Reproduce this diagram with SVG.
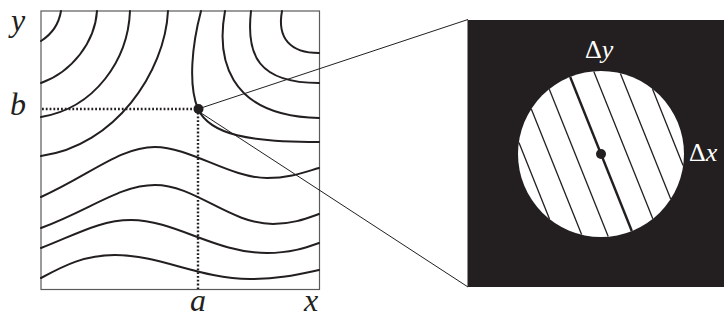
<svg xmlns="http://www.w3.org/2000/svg" width="724" height="320" viewBox="0 0 724 320">
  <style>
    .frame { fill: none; stroke: #5a5a5a; stroke-width: 1.2; }
    .contour { fill: none; stroke: #231f20; stroke-width: 2; stroke-linecap: round; }
    .dotted { fill: none; stroke: #231f20; stroke-width: 2.4; stroke-dasharray: 1.8 2; }
    .conn { fill: none; stroke: #231f20; stroke-width: 1; }
    .thin { stroke: #231f20; stroke-width: 1.3; }
    .thick { stroke: #231f20; stroke-width: 2.4; }
    .lbl { font-style: italic; font-size: 32px; fill: #231f20; }
    .dlbl { font-size: 26px; fill: #ffffff; }
    .it { font-style: italic; }
  </style>

  <g id="plot">
    <rect class="frame" x="41" y="11" width="278.5" height="278.5"/>
  </g>

  <g id="contours">
    <path class="contour" d="M61,11 C59,23 52,34 41,41"/>
    <path class="contour" d="M97,11 C95,42 72,72 41,83"/>
    <path class="contour" d="M130,11 C128,60 95,108 41,117"/>
    <path class="contour" d="M168,11 C165,72 115,146 41,156"/>
    <path class="contour" d="M201,11 C192,45 188,85 198,109 C210,135 250,142 319,142"/>
    <path class="contour" d="M225,11 C217,55 225,116 319,118"/>
    <path class="contour" d="M251,11 C246,55 258,83 319,83"/>
    <path class="contour" d="M282,11 C277,38 290,53 319,53"/>
    <path class="contour" d="M41,197 C90,175 120,147 155,147 C190,147 230,178 267,178 C290,178 305,172 319,168"/>
    <path class="contour" d="M41,228 C90,210 120,185 155,185 C195,185 230,224 273,224 C292,224 305,219 319,214"/>
    <path class="contour" d="M41,248 C75,235 100,220 131,220 C175,220 215,253 267,253 C290,253 305,248 319,243"/>
    <path class="contour" d="M41,278 C65,265 85,255 115,255 C160,255 200,279 250,279 C280,279 300,274 319,270"/>
  </g>

  <g id="guides">
    <path class="dotted" d="M42,109 H198 V289"/>
  </g>

  <g id="labels" font-family="Liberation Serif, Times New Roman, serif">
    <text class="lbl" x="18" y="31" text-anchor="middle">y</text>
    <text class="lbl" x="18" y="115" text-anchor="middle">b</text>
    <text class="lbl" x="198" y="311" text-anchor="middle">a</text>
    <text class="lbl" x="311" y="311" text-anchor="middle">x</text>
  </g>

  <g id="connectors">
    <line class="conn" x1="198" y1="109" x2="468" y2="19.5"/>
    <line class="conn" x1="198" y1="111" x2="468" y2="287"/>
  </g>

  <g id="point">
    <circle cx="198.5" cy="109" r="5" fill="#231f20"/>
  </g>

  <g id="magnifier">
    <rect x="467.5" y="20" width="260" height="267" fill="#231f20"/>
    <circle cx="601" cy="154" r="83" fill="#ffffff"/>
    <line class="thin" x1="518.9" y1="142.4" x2="549.5" y2="219.0"/>
    <line class="thin" x1="531.3" y1="109.0" x2="581.6" y2="234.6"/>
    <line class="thin" x1="549.3" y1="89.2" x2="608.2" y2="236.6"/>
    <line class="thick" x1="570.2" y1="77.0" x2="631.8" y2="231.0"/>
    <line class="thin" x1="593.8" y1="71.4" x2="652.8" y2="218.8"/>
    <line class="thin" x1="620.4" y1="73.4" x2="670.7" y2="199.0"/>
    <line class="thin" x1="652.5" y1="89.0" x2="683.1" y2="165.6"/>
    <circle cx="601" cy="154" r="5" fill="#231f20"/>
    <g font-family="Liberation Serif, Times New Roman, serif">
      <text class="dlbl" x="585" y="58">Δ<tspan class="it">y</tspan></text>
      <text class="dlbl" x="689" y="161">Δ<tspan class="it">x</tspan></text>
    </g>
  </g>
</svg>
